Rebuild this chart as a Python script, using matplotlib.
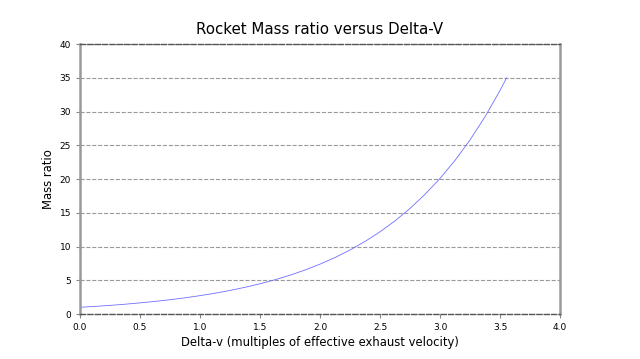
import matplotlib
matplotlib.use("Agg")
import matplotlib.pyplot as plt

# Delta-v (multiples of exhaust velocity) and mass ratio
delta_v = [0.0, 0.125, 0.25, 0.375, 0.5, 0.625, 0.75, 0.875, 1.0, 1.125, 1.25,
           1.375, 1.5, 1.625, 1.75, 1.875, 2.0, 2.125, 2.25, 2.375, 2.5, 2.625,
           2.75, 2.875, 3.0, 3.125, 3.25, 3.375, 3.5, 3.555]
mass_ratio = [1.0, 1.13, 1.28, 1.45, 1.65, 1.87, 2.12, 2.40, 2.72, 3.08, 3.49,
              3.96, 4.48, 5.08, 5.75, 6.52, 7.39, 8.37, 9.49, 10.75, 12.18, 13.80,
              15.64, 17.73, 20.09, 22.76, 25.79, 29.22, 33.12, 35.0]

x_ticks = [0.0, 0.5, 1.0, 1.5, 2.0, 2.5, 3.0, 3.5, 4.0]
y_ticks = [0, 5, 10, 15, 20, 25, 30, 35, 40]

fig = plt.figure(figsize=(6.4, 3.59), dpi=100)
ax = fig.add_axes([0.125, 0.1253, 0.75, 0.752])

ax.plot(delta_v, mass_ratio, color="#6f6fff", linewidth=0.6)

ax.set_xlim(0, 4)
ax.set_ylim(0, 40)
ax.set_xticks(x_ticks)
ax.set_yticks(y_ticks)
ax.set_xticklabels([f"{t:.1f}" for t in x_ticks])
ax.tick_params(labelsize=6.5, colors="#888888", labelcolor="black", length=3)

ax.yaxis.grid(True, linestyle="--", color="#999999", linewidth=0.8)
ax.set_axisbelow(True)

for side in ("left", "right"):
    ax.spines[side].set_color("#999999")
    ax.spines[side].set_linewidth(1.8)
for side in ("top", "bottom"):
    ax.spines[side].set_color("#555555")
    ax.spines[side].set_linestyle("--")
    ax.spines[side].set_linewidth(1)

ax.set_title("Rocket Mass ratio versus Delta-V", fontsize=10.8, pad=7)
ax.set_xlabel("Delta-v (multiples of effective exhaust velocity)", fontsize=8.4, labelpad=3)
ax.set_ylabel("Mass ratio", fontsize=8.4, labelpad=3)

fig.savefig("out.png", dpi=100)
